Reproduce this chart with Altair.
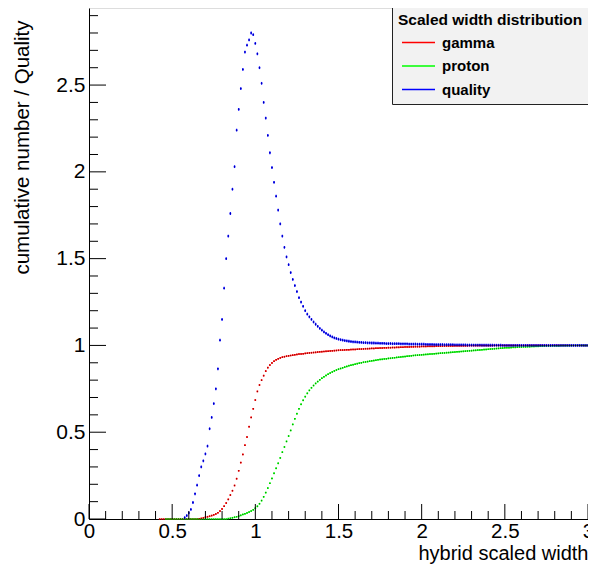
import altair as alt
import numpy as np
import pandas as pd

BIN = 0.0125

gamma_start = 0.425
gamma_y = [
    0, 0, 0, 0, 0, 0, 0, 0, 0, 0, 0, 0, 0, 0, 0, 0, 0, 0, 0,
    0.001, 0.003, 0.006,
    0.010, 0.013, 0.016, 0.020, 0.024, 0.029, 0.036, 0.046, 0.058, 0.074,
    0.092, 0.113, 0.138, 0.163, 0.193, 0.232, 0.278, 0.325, 0.372, 0.425,
    0.472, 0.532, 0.585, 0.635, 0.685, 0.735, 0.772, 0.800, 0.826, 0.852,
    0.872, 0.887, 0.899, 0.909, 0.917, 0.923, 0.928, 0.932, 0.935, 0.938, 0.940,
    0.942, 0.944, 0.946, 0.948, 0.950, 0.951, 0.952, 0.954, 0.955, 0.957,
    0.958, 0.959, 0.960, 0.962, 0.963, 0.964, 0.965, 0.966, 0.967, 0.968,
    0.969, 0.970, 0.971, 0.972,
    0.973, 0.973, 0.974, 0.975, 0.975, 0.976, 0.977, 0.977, 0.978, 0.979,
    0.979, 0.980, 0.981, 0.981, 0.982, 0.983, 0.983, 0.984, 0.984, 0.985,
    0.985, 0.986, 0.986, 0.987, 0.987, 0.988, 0.988, 0.989, 0.989, 0.990,
    0.990, 0.991, 0.991, 0.991, 0.992, 0.992, 0.993, 0.993, 0.993, 0.994,
    0.994, 0.994, 0.995, 0.995, 0.995, 0.995, 0.996, 0.996, 0.996, 0.996,
    0.997, 0.997, 0.997, 0.997, 0.997, 0.998, 0.998, 0.998, 0.998, 0.998,
    0.998, 0.998, 0.999, 0.999, 0.999, 0.999, 0.999, 0.999, 0.999, 0.999,
    0.999, 0.999, 0.999, 0.999, 1.0, 1.0, 1.0, 1.0, 1.0, 1.0,
    1.0, 1.0, 1.0, 1.0, 1.0, 1.0, 1.0, 1.0, 1.0, 1.0,
    1.0, 1.0, 1.0, 1.0, 1.0, 1.0, 1.0, 1.0, 1.0, 1.0,
    1.0, 1.0, 1.0, 1.0, 1.0, 1.0, 1.0, 1.0, 1.0, 1.0,
    1.0, 1.0, 1.0, 1.0, 1.0, 1.0, 1.0, 1.0, 1.0, 1.0,
]

proton_start = 0.4625
proton_y = [
    0, 0, 0, 0, 0, 0, 0, 0, 0, 0, 0, 0, 0, 0, 0,
    0, 0, 0, 0, 0, 0, 0, 0, 0, 0, 0, 0, 0, 0, 0,
    0.002, 0.004, 0.007, 0.010, 0.013, 0.017, 0.021, 0.026, 0.030, 0.035,
    0.040, 0.046, 0.053, 0.062, 0.073, 0.088, 0.106, 0.128, 0.152, 0.178,
    0.206, 0.234, 0.263, 0.292, 0.321, 0.352, 0.385, 0.415, 0.447, 0.478,
    0.510, 0.545, 0.577, 0.607, 0.635, 0.661, 0.684, 0.705, 0.724, 0.741,
    0.756, 0.769, 0.781, 0.792, 0.802, 0.811, 0.819, 0.827, 0.834, 0.841,
    0.847, 0.853, 0.858, 0.863,
    0.867, 0.871, 0.875, 0.879, 0.883, 0.886, 0.889, 0.892, 0.895, 0.898,
    0.900, 0.903, 0.905, 0.907, 0.909, 0.911, 0.913, 0.915, 0.917, 0.919,
    0.920, 0.922, 0.923, 0.925, 0.926, 0.928, 0.929, 0.931, 0.932, 0.934,
    0.935, 0.936, 0.938, 0.939, 0.940, 0.942, 0.943, 0.944, 0.945, 0.946,
    0.947, 0.948, 0.949, 0.950, 0.951, 0.952, 0.953, 0.954, 0.955, 0.956,
    0.957, 0.958, 0.959, 0.960, 0.961, 0.962, 0.963, 0.964, 0.965, 0.966,
    0.967, 0.968, 0.969, 0.970, 0.971, 0.972, 0.973, 0.974, 0.975, 0.976,
    0.977, 0.978, 0.979, 0.980, 0.981, 0.982, 0.983, 0.984, 0.985, 0.986,
    0.987, 0.987, 0.988, 0.989, 0.989, 0.990, 0.991, 0.991, 0.992, 0.992,
    0.993, 0.993, 0.994, 0.994, 0.995, 0.995, 0.996, 0.996, 0.996, 0.997,
    0.997, 0.997, 0.998, 0.998, 0.998, 0.998, 0.999, 0.999, 0.999, 0.999,
    0.999, 0.999, 1.0, 1.0, 1.0, 1.0, 1.0, 1.0, 1.0, 1.0,
]

quality_start = 0.575
quality_y = [
    0.008, 0.020, 0.035, 0.055, 0.095, 0.145, 0.195, 0.250, 0.300, 0.335,
    0.375, 0.420, 0.520, 0.585, 0.665, 0.750, 0.865, 1.030, 1.150, 1.330,
    1.500, 1.630, 1.760, 1.900, 2.030, 2.240, 2.360, 2.480, 2.590, 2.690,
    2.730, 2.760, 2.800, 2.790, 2.740, 2.680, 2.600, 2.510, 2.400, 2.310,
    2.210, 2.110, 2.025, 1.940, 1.860, 1.780, 1.700, 1.630, 1.565, 1.510,
    1.465, 1.420, 1.380, 1.345, 1.310, 1.275, 1.250, 1.225, 1.200, 1.180,
    1.165, 1.150, 1.135, 1.122, 1.110, 1.098, 1.088, 1.078, 1.070, 1.062,
    1.055, 1.049, 1.044, 1.040, 1.036,
    1.033, 1.030, 1.028, 1.026, 1.024, 1.022, 1.021, 1.020, 1.019, 1.018,
    1.017, 1.016, 1.016, 1.015, 1.015, 1.014, 1.014, 1.013, 1.013, 1.012,
    1.012, 1.012, 1.011, 1.011, 1.011, 1.010, 1.010, 1.010, 1.010, 1.009,
    1.009, 1.009, 1.009, 1.008, 1.008, 1.008, 1.008, 1.007, 1.007, 1.007,
    1.007, 1.006, 1.006, 1.006, 1.006, 1.005, 1.005, 1.005, 1.005, 1.005,
    1.004, 1.004, 1.004, 1.004, 1.004, 1.003, 1.003, 1.003, 1.003, 1.003,
    1.003, 1.002, 1.002, 1.002, 1.002, 1.002, 1.002, 1.002, 1.001, 1.001,
    1.001, 1.001, 1.001, 1.001, 1.001, 1.001, 1.001, 1.001, 1.000, 1.000,
    1.0, 1.0, 1.0, 1.0, 1.0, 1.0, 1.0, 1.0, 1.0, 1.0,
    1.0, 1.0, 1.0, 1.0, 1.0, 1.0, 1.0, 1.0, 1.0, 1.0,
    1.0, 1.0, 1.0, 1.0, 1.0, 1.0, 1.0, 1.0, 1.0, 1.0,
    1.0, 1.0, 1.0, 1.0, 1.0, 1.0, 1.0, 1.0, 1.0, 1.0,
]

series_names = ["gamma", "proton", "quality"]
series_colors = ["#ff0000", "#00ff00", "#0000ff"]

x_major = [0, 0.5, 1, 1.5, 2, 2.5, 3]
y_major = [0, 0.5, 1, 1.5, 2, 2.5]
x_minor = [round(i * 0.1, 1) for i in range(1, 30) if i % 5 != 0]
y_minor = [round(i * 0.1, 1) for i in range(1, 30) if i % 5 != 0]


def frame(name, start, ys, err):
    ys = np.array(ys, dtype=float)
    xs = start + BIN * np.arange(len(ys))
    e = np.where(ys > 0, err, 0.0)
    return pd.DataFrame({
        "series": name, "x": xs, "y": ys,
        "xlo": xs - 0.005, "xhi": xs + 0.005,
        "ylo": np.clip(ys - e, 0, None), "yhi": ys + e,
    })


data = pd.concat([
    frame("gamma", gamma_start, gamma_y, 0.005),
    frame("proton", proton_start, proton_y, 0.005),
    frame("quality", quality_start, quality_y, 0.008),
], ignore_index=True)

W, H = 499, 511
xs = alt.Scale(domain=[0, 3], nice=False, zero=False)
ys = alt.Scale(domain=[0, 2.944], nice=False, zero=False)
cs = alt.Scale(domain=series_names, range=series_colors)

legend = alt.Legend(
    title="Scaled width distribution", orient="none", legendX=303, legendY=-1,
    direction="vertical", fillColor="#f2f2f2", strokeColor="#222222", padding=6,
    titleFontSize=15.5, titleFontWeight="bold", titleColor="black",
    titleFont="Liberation Sans", titlePadding=2, titleLimit=400,
    labelFontSize=15, labelFontWeight="bold", labelColor="black",
    labelFont="Liberation Sans", labelOffset=17,
    symbolType="M-1,0H2", symbolSize=484, symbolStrokeWidth=1.6,
    symbolOffset=3, rowPadding=3.5,
)

x_axis = alt.Axis(
    values=x_major, format="~g", ticks=False, grid=False, domainColor="black",
    labelFontSize=20.5, labelColor="black", labelPadding=2, labelFont="Liberation Sans",
    labelFlush=False,
    title="hybrid scaled width", titleFontSize=20, titleFontWeight="normal",
    titleColor="black", titleFont="Liberation Sans",
    titleX=W, titleY=40, titleAlign="right", titleBaseline="alphabetic",
)
y_axis = alt.Axis(
    values=y_major, format="~g", ticks=False, grid=False, domainColor="black",
    labelFontSize=21, labelColor="black", labelPadding=4, labelFont="Liberation Sans",
    labelFlush=False,
    title="cumulative number / Quality", titleFontSize=20.5, titleFontWeight="normal",
    titleColor="black", titleFont="Liberation Sans", titleAngle=-90,
    titleX=-67, titleY=12, titleAlign="right", titleBaseline="middle",
)

hbars = alt.Chart(data).mark_rule(strokeWidth=1.5).encode(
    x=alt.X("xlo:Q", scale=xs, axis=x_axis),
    x2="xhi:Q",
    y=alt.Y("y:Q", scale=ys, axis=y_axis),
    color=alt.Color("series:N", scale=cs, legend=legend),
)
vbars = alt.Chart(data).mark_rule(strokeWidth=1.2).encode(
    x=alt.X("x:Q", scale=xs, axis=x_axis),
    y=alt.Y("ylo:Q", scale=ys, axis=y_axis),
    y2="yhi:Q",
    color=alt.Color("series:N", scale=cs, legend=legend),
)
dots = alt.Chart(data).mark_square(size=1, color="black", opacity=0.45).encode(
    x=alt.X("x:Q", scale=xs, axis=x_axis),
    y=alt.Y("y:Q", scale=ys, axis=y_axis),
)

xmaj = alt.Chart(pd.DataFrame({"v": x_major})).mark_rule(color="black").encode(
    x=alt.X("v:Q", scale=xs, axis=x_axis), y=alt.value(H), y2=alt.value(H - 15))
xmin = alt.Chart(pd.DataFrame({"v": x_minor})).mark_rule(color="black").encode(
    x=alt.X("v:Q", scale=xs, axis=x_axis), y=alt.value(H), y2=alt.value(H - 8))
ymaj = alt.Chart(pd.DataFrame({"v": y_major})).mark_rule(color="black").encode(
    y=alt.Y("v:Q", scale=ys, axis=y_axis), x=alt.value(0), x2=alt.value(17))
ymin = alt.Chart(pd.DataFrame({"v": y_minor})).mark_rule(color="black").encode(
    y=alt.Y("v:Q", scale=ys, axis=y_axis), x=alt.value(0), x2=alt.value(9))

chart = alt.layer(hbars, vbars, dots, xmaj, xmin, ymaj, ymin).properties(
    width=W, height=H, autosize="none",
    padding={"left": 81, "top": 0, "right": 0, "bottom": 48},
).configure_view(stroke="black", strokeWidth=1).configure(font="Liberation Sans")

chart.save("out.html", embed_options={"renderer": "svg", "actions": False})
